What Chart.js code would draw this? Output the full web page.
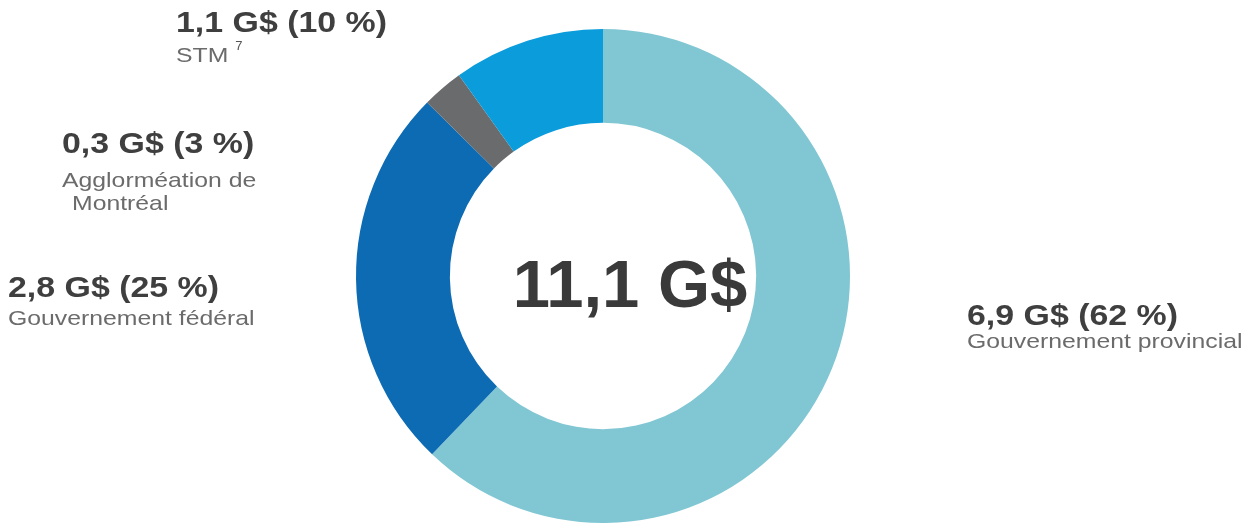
<!DOCTYPE html>
<html lang="fr">
<head>
<meta charset="utf-8">
<script src="https://cdn.jsdelivr.net/npm/chart.js@4.4.1/dist/chart.umd.min.js"></script>
<style>
  html, body { margin: 0; padding: 0; background: #fff; }
  #wrap { position: relative; width: 1249px; height: 525px; }
</style>
</head>
<body>
<div id="wrap"><canvas id="chart" width="1249" height="525"></canvas></div>
<script>
// Data (G$), clockwise from the top
const categories = ["Gouvernement provincial", "Gouvernement fédéral", ["Agglorméation de", "Montréal"], "STM"]
const values = [6.9, 2.8, 0.3, 1.1]
const footnotes = ["", "", "", "7"]
const colors = ["#80c7d3", "#0d6bb4", "#6a6b6d", "#0b9cdb"]

const totalLabel = "11,1 G$"

// Where each label block sits (left x, bold baseline, sub-line baselines)
const labelLayout = [
  { x: 967, y: 325, sub: [{ dx: 0, y: 348 }] },
  { x: 8, y: 297, sub: [{ dx: 0, y: 325 }] },
  { x: 62, y: 153, sub: [{ dx: 0, y: 187 }, { dx: 10, y: 210 }] },
  { x: 176, y: 32, sub: [{ dx: 0, y: 62 }] }
]

const fmt = v => v.toFixed(1).replace(".", ",")

// Stretched text helper, the source labels are a bit wider than Arial
function drawText(ctx, text, x, y, font, color, sx) {
  ctx.save()
  ctx.font = font
  ctx.fillStyle = color
  ctx.textBaseline = "alphabetic"
  ctx.textAlign = "left"
  ctx.translate(x, y)
  ctx.scale(sx, 1)
  ctx.fillText(text, 0, 0)
  const w = ctx.measureText(text).width * sx
  ctx.restore()
  return w
}

const labelPlugin = {
  id: "sliceLabels",
  afterDraw(chart) {
    const ctx = chart.ctx
    const total = values.reduce((a, b) => a + b, 0)
    values.forEach((v, i) => {
      const pos = labelLayout[i]
      const pct = Math.round(v / total * 100)
      drawText(ctx, `${fmt(v)} G$ (${pct} %)`, pos.x, pos.y, "bold 30px 'Liberation Sans', Arial, sans-serif", "#3f3f3f", 1.13)
      const lines = Array.isArray(categories[i]) ? categories[i] : [categories[i]]
      lines.forEach((line, j) => {
        const s = pos.sub[j]
        const w = drawText(ctx, line, pos.x + s.dx, s.y, "21px 'Liberation Sans', Arial, sans-serif", "#6b6b6b", 1.18)
        if (j === lines.length - 1 && footnotes[i]) {
          drawText(ctx, footnotes[i], pos.x + s.dx + w + 7, s.y - 12, "13px 'Liberation Sans', Arial, sans-serif", "#555", 1)
        }
      })
    })

    // total in the hole
    ctx.save()
    ctx.font = "bold 67px 'Liberation Sans', Arial, sans-serif"
    ctx.fillStyle = "#3a3a3a"
    ctx.textAlign = "center"
    ctx.textBaseline = "alphabetic"
    ctx.fillText(totalLabel, 630, 307)
    ctx.restore()
  }
}

new Chart(document.getElementById("chart"), {
  type: "doughnut",
  data: {
    labels: categories,
    datasets: [{
      data: values,
      backgroundColor: colors,
      borderWidth: 0,
      hoverOffset: 0
    }]
  },
  options: {
    responsive: false,
    animation: false,
    cutout: "62%",
    rotation: 0,
    layout: { padding: { top: 29, bottom: 2, left: 0, right: 43 } },
    plugins: {
      legend: { display: false },
      tooltip: { enabled: false }
    },
    events: []
  },
  plugins: [labelPlugin]
})
</script>
</body>
</html>
